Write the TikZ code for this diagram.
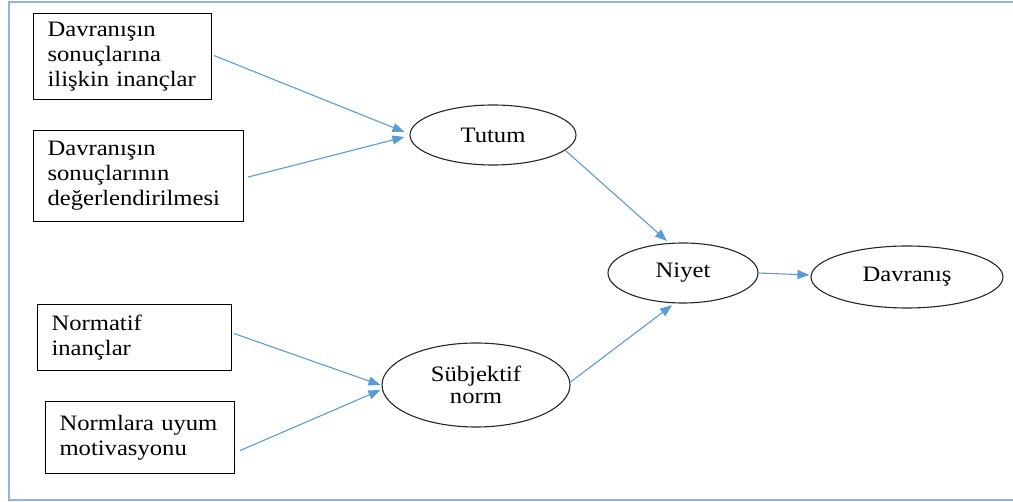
\documentclass[tikz,border=0pt]{standalone}
\usepackage{fontspec}
\setmainfont{Liberation Serif}[FakeStretch=1.12]
\usetikzlibrary{shapes.geometric,arrows.meta,calc}
\definecolor{arrowblue}{HTML}{5B9BD5}
\definecolor{frameblue}{HTML}{8DB4E2}
\begin{document}
\begin{tikzpicture}[x=1pt,y=-1pt,
  every node/.style={font=\fontsize{22}{25}\selectfont},
  boxnode/.style={draw=black,line width=1.1pt,anchor=north west,align=left,inner xsep=14pt,inner ysep=0pt},
  ovalnode/.style={draw=black!85,line width=1.1pt,ellipse,inner sep=0pt,align=center},
  conn/.style={draw=arrowblue,line width=1.1pt,-{Triangle[length=12pt,width=9pt]}}]
\useasboundingbox (0,0) rectangle (1013,502);
\draw[frameblue,line width=2pt] (9,2) rectangle (1030,500);
% boxes
\node[boxnode,text width=150pt,minimum height=86pt] (b1) at (33,13) {Davranışın\\sonuçlarına\\ilişkin inançlar};
\node[boxnode,text width=182pt,minimum height=91pt] (b2) at (33,130) {Davranışın\\sonuçlarının\\değerlendirilmesi};
\node[boxnode,text width=166pt,minimum height=66pt] (b3) at (37,304) {Normatif\\inançlar};
\node[boxnode,text width=161pt,minimum height=72pt] (b4) at (45,401) {Normlara uyum\\motivasyonu};
% ellipses
\node[ovalnode,minimum width=166pt,minimum height=60pt] (tutum) at (493,135) {Tutum};
\node[ovalnode,minimum width=188pt,minimum height=84pt,font=\fontsize{22}{22}\selectfont] (subj) at (476,385) {Sübjektif\\norm};
\node[ovalnode,minimum width=150pt,minimum height=60pt] (niyet) at (683,273) {Niyet};
\node[ovalnode,minimum width=192pt,minimum height=62pt] (davr) at (907,277) {Davranış};
% connectors
\draw[conn] ($(b1.east)+(2,-1)$) -- ($(tutum.west)+(-5,-3)$);
\draw[conn] ($(b2.east)+(4,1)$) -- ($(tutum.west)+(-5,2)$);
\draw[conn] (tutum.-12) -- ($(niyet.115)+(-2,-2)$);
\draw[conn] ($(b3.east)+(2,-4)$) -- ($(subj.west)+(-1,0)$);
\draw[conn] ($(b4.east)+(5,13)$) -- ($(subj.west)+(-1,5)$);
\draw[conn] ($(subj.east)+(0,-3)$) -- ($(niyet.-110)+(0,2)$);
\draw[conn] (niyet.east) -- ($(davr.west)+(-1,-2)$);
\end{tikzpicture}
\end{document}
